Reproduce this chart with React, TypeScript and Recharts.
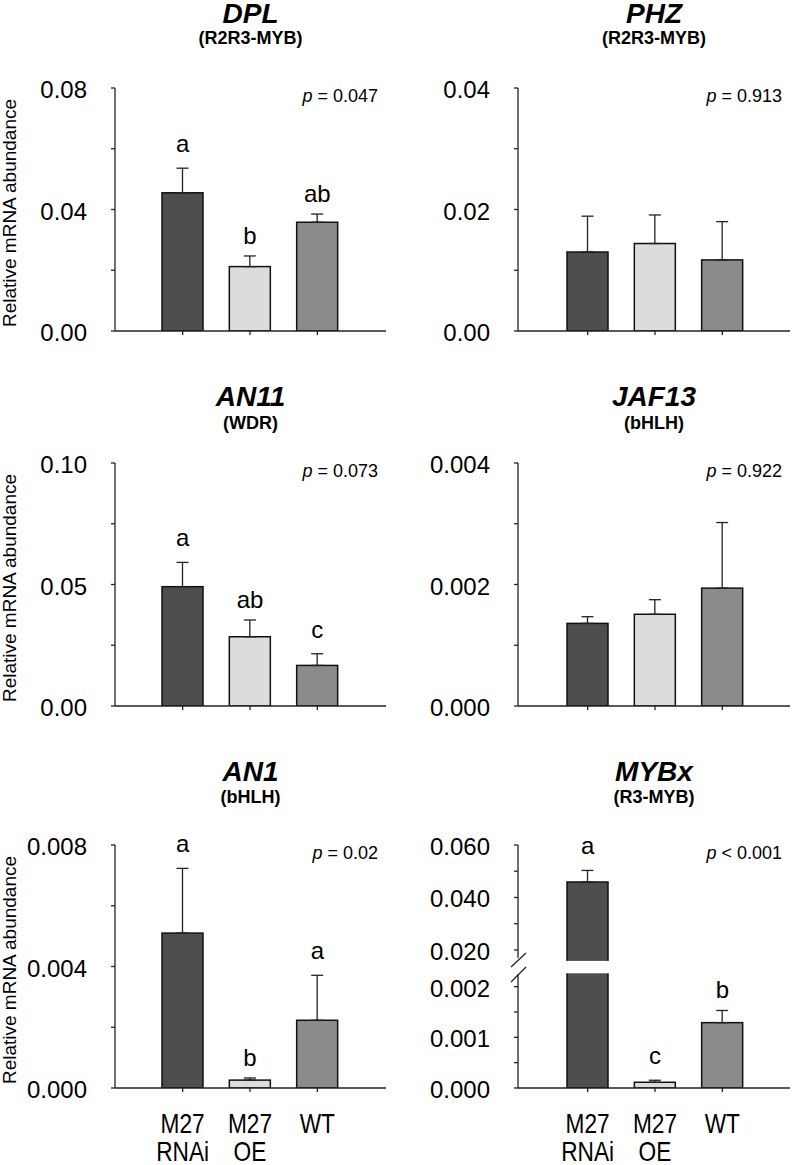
import React from "react";
import { BarChart, Bar, XAxis, YAxis, Cell, ErrorBar, ReferenceDot } from "recharts";

const groups = ["M27 RNAi", "M27 OE", "WT"];

const dplMean = [0.0455, 0.0212, 0.0358];
const dplErr = [0.0081, 0.0035, 0.0027];
const dplLetters = ["a", "b", "ab"];
const dplTicks = [0, 0.02, 0.04, 0.06, 0.08];
const dplTickLabels = ["0.00", "", "0.04", "", "0.08"];

const phzMean = [0.013, 0.0144, 0.0117];
const phzErr = [0.0059, 0.0047, 0.0063];
const phzTicks = [0, 0.01, 0.02, 0.03, 0.04];
const phzTickLabels = ["0.00", "", "0.02", "", "0.04"];

const an11Mean = [0.0491, 0.0285, 0.0167];
const an11Err = [0.01, 0.0069, 0.0048];
const an11Letters = ["a", "ab", "c"];
const an11Ticks = [0, 0.025, 0.05, 0.075, 0.1];
const an11TickLabels = ["0.00", "", "0.05", "", "0.10"];

const jaf13Mean = [0.00136, 0.00151, 0.00194];
const jaf13Err = [0.00011, 0.00024, 0.00108];
const jaf13Ticks = [0, 0.001, 0.002, 0.003, 0.004];
const jaf13TickLabels = ["0.000", "", "0.002", "", "0.004"];

const an1Mean = [0.0051, 0.00026, 0.00223];
const an1Err = [0.00213, 0.00007, 0.00148];
const an1Letters = ["a", "b", "a"];
const an1Ticks = [0, 0.002, 0.004, 0.006, 0.008];
const an1TickLabels = ["0.000", "", "0.004", "", "0.008"];

const mybxMean = [0.0459, 0.000113, 0.00129];
const mybxErr = [0.0044, 0.00004, 0.00024];
const mybxLetters = ["a", "c", "b"];
const mybxTicks = [0, 0.0005, 0.001, 0.0015, 0.002, 0.02, 0.03, 0.04, 0.05, 0.06];
const mybxTickLabels = ["0.000", "", "0.001", "", "0.002", "0.020", "", "0.040", "", "0.060"];

const FONT = '"Liberation Sans", Arial, Helvetica, sans-serif';
const BAR_FILLS = ["#4e4e4e", "#dcdcdc", "#8b8b8b"];
const AXIS = "#222";
const PLOT_H = 243;

// broken axis for MYBx: lower part 0..0.002, upper part 0.02..0.06
const LOW_MAX = 0.002;
const LOW_FRAC = 0.417;
const HIGH_MIN = 0.02;
const HIGH_MAX = 0.06;
const HIGH_FRAC = 0.568;
const GAP_LO = 0.472;
const GAP_HI = 0.523;

const brokenT = (v: number) =>
  v <= LOW_MAX
    ? (v / LOW_MAX) * LOW_FRAC
    : HIGH_FRAC + ((v - HIGH_MIN) / (HIGH_MAX - HIGH_MIN)) * (1 - HIGH_FRAC);

const COLS = [
  { left: 0, width: 400, ml: 55, mr: 14, pad: { left: 34, right: 35 } },
  { left: 400, width: 393, ml: 58, mr: 3, pad: { left: 36, right: 34 } },
];
const ROW_TOPS = [88, 463, 845];
const TITLE_CAP = [84, 76, 83];
const SUB_BASE = [44, 34, 42];

function YTick(props: any) {
  const { x, y, payload, tTicks, labels, broken } = props;
  const i = tTicks.findIndex((t: number) => Math.abs(t - payload.value) < 1e-9);
  const label = i >= 0 ? labels[i] : "";
  const ax = x + 28;
  return (
    <g>
      <text x={x} y={y} dy={10} textAnchor="end" fontSize={24} fill="#000" fontFamily={FONT}>
        {label}
      </text>
      {broken && label === "0.020" && (
        <g stroke={AXIS} strokeWidth={1.3}>
          <line x1={ax - 7} y1={y + 17} x2={ax + 8} y2={y + 3} />
          <line x1={ax - 7} y1={y + 32} x2={ax + 8} y2={y + 17} />
        </g>
      )}
    </g>
  );
}

// condensed look of the group labels
function XTick(props: any) {
  const { x, y, payload } = props;
  const lines = String(payload.value).split(" ");
  return (
    <g transform={`translate(${x},${y}) scale(0.81,1)`}>
      <text textAnchor="middle" fontSize={28} fill="#000" fontFamily={FONT}>
        {lines.map((l, k) => (
          <tspan key={k} x={0} y={39 + k * 28}>
            {l}
          </tspan>
        ))}
      </text>
    </g>
  );
}

function Panel({ title, family, mean, err, letters, ticks, tickLabels, pText, col, row, broken }: any) {
  const c = COLS[col];
  const plotTop = ROW_TOPS[row];
  const tf = broken ? brokenT : (v: number) => v;
  const data = groups.map((g, i) => ({
    group: g,
    value: tf(mean[i]),
    err: [0, tf(mean[i] + err[i]) - tf(mean[i])],
  }));
  const tTicks = ticks.map(tf);
  const plotLeft = c.left + c.ml + 60;
  const plotRight = c.left + c.width - c.mr;
  const cx = (plotLeft + plotRight) / 2;
  const bottomRow = row === 2;

  const barShape = (p: any) => {
    const { x, y, width, height, fill } = p;
    const bottom = y + height;
    const gTop = bottom - GAP_HI * PLOT_H;
    const gBot = bottom - GAP_LO * PLOT_H;
    return (
      <g>
        <rect x={x} y={y} width={width} height={height} fill={fill} stroke="#111" strokeWidth={1.5} />
        {broken && y < gTop && (
          <rect x={x - 2} y={gTop} width={width + 4} height={gBot - gTop} fill="#fff" />
        )}
      </g>
    );
  };

  return (
    <>
      <div
        style={{
          position: "absolute",
          left: cx - 150,
          width: 300,
          top: plotTop - TITLE_CAP[row] - 3.7,
          textAlign: "center",
          fontFamily: FONT,
          fontSize: 28,
          lineHeight: "28px",
          fontWeight: "bold",
          fontStyle: "italic",
        }}
      >
        {title}
      </div>
      <div
        style={{
          position: "absolute",
          left: cx - 150,
          width: 300,
          top: plotTop - SUB_BASE[row] - 15.2,
          textAlign: "center",
          fontFamily: FONT,
          fontSize: 18,
          lineHeight: "18px",
          fontWeight: "bold",
        }}
      >
        {family}
      </div>
      <div
        style={{
          position: "absolute",
          left: plotRight - 8 - 200,
          width: 200,
          top: plotTop - 1,
          textAlign: "right",
          fontFamily: FONT,
          fontSize: 18,
          lineHeight: "18px",
        }}
      >
        <i>p</i> {pText}
      </div>
      {col === 0 && (
        <div
          style={{
            position: "absolute",
            left: 10 - 150,
            width: 300,
            top: plotTop + 125 - 10,
            height: 20,
            lineHeight: "20px",
            textAlign: "center",
            fontFamily: FONT,
            fontSize: 19,
            transform: "rotate(-90deg)",
          }}
        >
          Relative mRNA abundance
        </div>
      )}
      <div style={{ position: "absolute", left: c.left, top: plotTop - 20 }}>
        <BarChart
          width={c.width}
          height={20 + PLOT_H + 80}
          data={data}
          margin={{ top: 20, right: c.mr, bottom: 0, left: c.ml }}
        >
          <XAxis
            dataKey="group"
            type="category"
            height={80}
            padding={c.pad}
            tickSize={4}
            interval={0}
            axisLine={{ stroke: AXIS, strokeWidth: 1.3 }}
            tickLine={{ stroke: AXIS, strokeWidth: 1.3 }}
            tick={bottomRow ? (p: any) => <XTick {...p} /> : () => <g />}
          />
          <YAxis
            type="number"
            domain={[0, tTicks[tTicks.length - 1]]}
            ticks={tTicks}
            interval={0}
            width={60}
            tickSize={4}
            tickMargin={24}
            allowDataOverflow
            axisLine={{
              stroke: AXIS,
              strokeWidth: 1.3,
              strokeDasharray: broken ? "113 16 400" : undefined,
            }}
            tickLine={{ stroke: AXIS, strokeWidth: 1.3 }}
            tick={(p: any) => <YTick {...p} tTicks={tTicks} labels={tickLabels} broken={broken} />}
          />
          <Bar dataKey="value" barSize={41} isAnimationActive={false} shape={barShape}>
            {groups.map((g, i) => (
              <Cell key={g} fill={BAR_FILLS[i]} />
            ))}
            <ErrorBar
              dataKey="err"
              direction="y"
              width={6}
              stroke={AXIS}
              strokeWidth={1.3}
              isAnimationActive={false}
            />
          </Bar>
          {letters &&
            letters.map((l: string, i: number) => (
              <ReferenceDot
                key={i}
                x={groups[i]}
                y={tf(mean[i] + err[i])}
                r={0}
                fill="none"
                stroke="none"
                ifOverflow="visible"
                label={{
                  value: l,
                  position: "top",
                  offset: /b/.test(l) ? 12 : 16,
                  fontSize: 24,
                  fill: "#000",
                  fontFamily: FONT,
                }}
              />
            ))}
        </BarChart>
      </div>
    </>
  );
}

export default function App() {
  return (
    <div
      style={{
        position: "absolute",
        left: 0,
        top: 0,
        width: 793,
        height: 1165,
        background: "#fff",
        fontFamily: FONT,
      }}
    >
      <Panel title="DPL" family="(R2R3-MYB)" mean={dplMean} err={dplErr} letters={dplLetters}
        ticks={dplTicks} tickLabels={dplTickLabels} pText="= 0.047" col={0} row={0} />
      <Panel title="PHZ" family="(R2R3-MYB)" mean={phzMean} err={phzErr} letters={null}
        ticks={phzTicks} tickLabels={phzTickLabels} pText="= 0.913" col={1} row={0} />
      <Panel title="AN11" family="(WDR)" mean={an11Mean} err={an11Err} letters={an11Letters}
        ticks={an11Ticks} tickLabels={an11TickLabels} pText="= 0.073" col={0} row={1} />
      <Panel title="JAF13" family="(bHLH)" mean={jaf13Mean} err={jaf13Err} letters={null}
        ticks={jaf13Ticks} tickLabels={jaf13TickLabels} pText="= 0.922" col={1} row={1} />
      <Panel title="AN1" family="(bHLH)" mean={an1Mean} err={an1Err} letters={an1Letters}
        ticks={an1Ticks} tickLabels={an1TickLabels} pText="= 0.02" col={0} row={2} />
      <Panel title="MYBx" family="(R3-MYB)" mean={mybxMean} err={mybxErr} letters={mybxLetters}
        ticks={mybxTicks} tickLabels={mybxTickLabels} pText="< 0.001" col={1} row={2} broken />
    </div>
  );
}
